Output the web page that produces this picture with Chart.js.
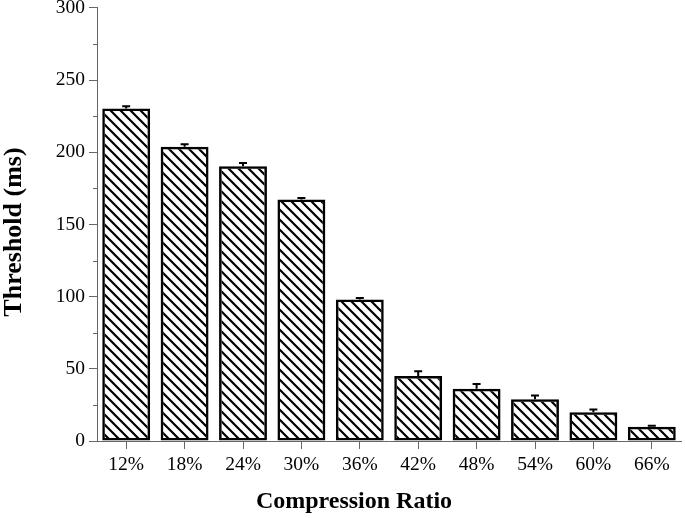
<!DOCTYPE html>
<html lang="en">
<head>
<meta charset="UTF-8">
<title>Threshold vs Compression Ratio</title>
<script src="https://cdn.jsdelivr.net/npm/chart.js"></script>
<style>
  html, body { margin: 0; padding: 0; background: #fff; }
  #chart { display: block; }
</style>
</head>
<body>
<canvas id="chart" width="685" height="518"></canvas>
<script>
// data
const ratios = ['12%', '18%', '24%', '30%', '36%', '42%', '48%', '54%', '60%', '66%'];
const thresholds = [230.3, 203.8, 190.3, 167.3, 98, 45.1, 36.2, 29.0, 20.0, 9.9];
const errors = [1.5, 1.8, 2.2, 1.0, 1.0, 3.2, 3.2, 2.5, 1.8, 0.6];
const yTicks = [0, 50, 100, 150, 200, 250, 300];
const yMinor = [25, 75, 125, 175, 225, 275];

// diagonal hatch fill
function hatch() {
    const s = 10;
    const c = document.createElement('canvas');
    c.width = s; c.height = s;
    const g = c.getContext('2d');
    g.strokeStyle = '#000';
    g.lineWidth = 2.2;
    g.beginPath();
    g.moveTo(-2, -2); g.lineTo(s + 2, s + 2);
    g.moveTo(s - 2, -2); g.lineTo(2 * s + 2, s + 2);
    g.moveTo(-s - 2, -2); g.lineTo(2, s + 2);
    g.stroke();
    return document.getElementById('chart').getContext('2d').createPattern(c, 'repeat');
}

// error bars (upper whisker), minor y ticks, axis titles
const extras = {
    id: 'extras',
    afterDatasetsDraw(chart) {
        const ctx = chart.ctx;
        const meta = chart.getDatasetMeta(0);
        const y = chart.scales.y;
        ctx.save();
        ctx.strokeStyle = '#000';
        ctx.lineWidth = 2;
        meta.data.forEach((bar, i) => {
            const top = y.getPixelForValue(thresholds[i] + errors[i]);
            ctx.beginPath();
            ctx.moveTo(bar.x, bar.y);
            ctx.lineTo(bar.x, top);
            ctx.moveTo(bar.x - 4, top);
            ctx.lineTo(bar.x + 4, top);
            ctx.stroke();
        });
        ctx.strokeStyle = '#666';
        ctx.lineWidth = 1;
        yMinor.forEach(v => {
            const py = Math.round(y.getPixelForValue(v)) + 0.5;
            ctx.beginPath();
            ctx.moveTo(chart.chartArea.left - 4, py);
            ctx.lineTo(chart.chartArea.left, py);
            ctx.stroke();
        });
        ctx.fillStyle = '#000';
        ctx.textAlign = 'center';
        ctx.textBaseline = 'middle';
        ctx.font = 'bold 24px "Liberation Serif"';
        ctx.fillText('Compression Ratio', 354, 502);
        ctx.translate(14, 232);
        ctx.rotate(-Math.PI / 2);
        ctx.font = 'bold 26px "Liberation Serif"';
        ctx.fillText('Threshold (ms)', 0, 0);
        ctx.restore();
    }
};

new Chart(document.getElementById('chart'), {
    type: 'bar',
    data: {
        labels: ratios,
        datasets: [{
            data: thresholds,
            backgroundColor: hatch(),
            borderColor: '#000',
            borderWidth: 2.5,
            borderSkipped: false,
            categoryPercentage: 1,
            barPercentage: 0.82
        }]
    },
    options: {
        responsive: false,
        animation: false,
        layout: { padding: { top: 0, right: 4, left: 0, bottom: 0 } },
        plugins: { legend: { display: false }, tooltip: { enabled: false } },
        scales: {
            x: {
                afterFit: (s) => { s.height = 77; },
                grid: { display: true, drawOnChartArea: false, offset: false, tickLength: 8, color: '#666' },
                border: { color: '#666', width: 1 },
                ticks: { color: '#000', font: { family: 'Liberation Serif', size: 19.5 }, padding: 4, maxRotation: 0 }
            },
            y: {
                min: 0, max: 300,
                afterBuildTicks: (s) => { s.ticks = yTicks.map(v => ({ value: v })); },
                afterFit: (s) => { s.width = 97; },
                grid: { display: true, drawOnChartArea: false, tickLength: 8, color: '#666' },
                border: { color: '#666', width: 1 },
                ticks: { color: '#000', font: { family: 'Liberation Serif', size: 19.5, lineHeight: 0.4 }, padding: 4 }
            }
        }
    },
    plugins: [extras]
});
</script>
</body>
</html>
